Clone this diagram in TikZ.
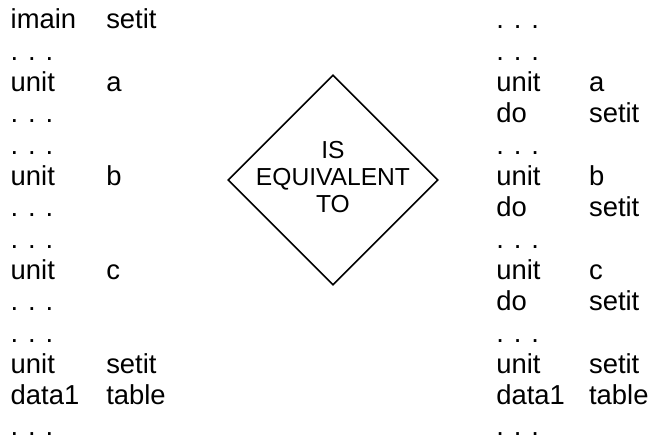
\documentclass[tikz,border=0pt]{standalone}
\usepackage{fontspec}
\setmainfont{Liberation Sans}
\usetikzlibrary{shapes.geometric}

\tikzset{
  entry/.style={anchor=base west, inner sep=0pt, font=\fontsize{19.5}{23}\selectfont},
  relation/.style={diamond, draw, line width=1.1pt, aspect=1, minimum size=5.25cm, inner sep=0pt},
  relationtext/.style={align=center, inner sep=0pt, font=\fontsize{17.5}{19.2}\selectfont}
}
\newcommand{\dotrow}{.\hspace{0.36em}.\hspace{0.36em}.}

\begin{document}
\begin{tikzpicture}
				\useasboundingbox (0,0) rectangle (16.4,-11.025);
				% Left listing
				\foreach \i/\t in {0/imain,1/\dotrow,2/unit,3/\dotrow,4/\dotrow,5/unit,6/\dotrow,7/\dotrow,8/unit,9/\dotrow,10/\dotrow,11/unit,12/data1,13/\dotrow}
					\node[entry] (lkey\i) at (0.26,{-0.72-0.783*\i}) {\t};
				\foreach \i/\t in {0/setit,2/a,5/b,8/c,11/setit,12/table}
					\node[entry] (larg\i) at (2.65,{-0.72-0.783*\i}) {\t};
				% Right listing
				\foreach \i/\t in {0/\dotrow,1/\dotrow,2/unit,3/do,4/\dotrow,5/unit,6/do,7/\dotrow,8/unit,9/do,10/\dotrow,11/unit,12/data1,13/\dotrow}
					\node[entry] (rkey\i) at (12.4,{-0.72-0.783*\i}) {\t};
				\foreach \i/\t in {2/a,3/setit,5/b,6/setit,8/c,9/setit,11/setit,12/table}
					\node[entry] (rarg\i) at (14.72,{-0.72-0.783*\i}) {\t};
				% Diamond
				\node[relation] (equiv) at (8.325,-4.5) {};
				\node[relationtext] (equivtext) at (8.325,-4.425) {IS\\EQUIVALENT\\TO};
			\end{tikzpicture}
\end{document}
